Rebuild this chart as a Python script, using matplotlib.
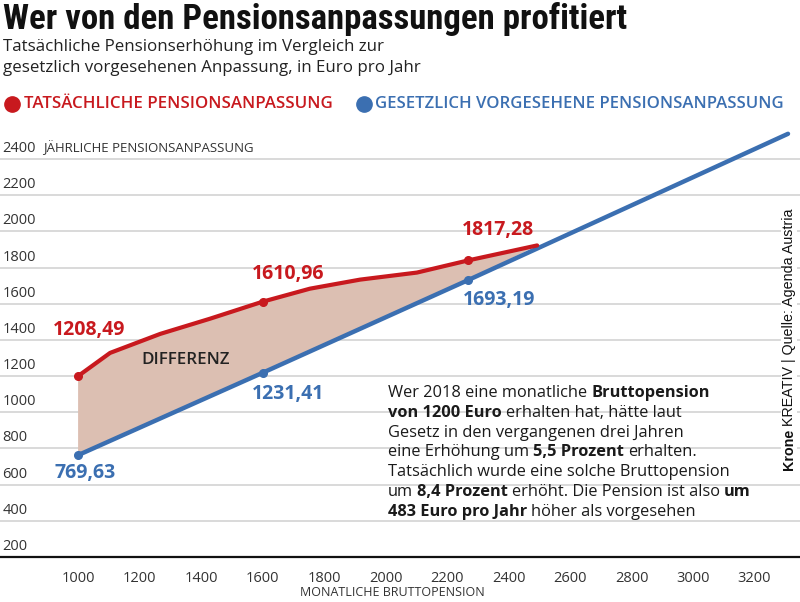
import matplotlib
matplotlib.use("Agg")
import matplotlib.pyplot as plt
from matplotlib.lines import Line2D
import matplotlib.transforms as mtransforms
import numpy as np

# values
red_x = [1000, 1104, 1267, 1429, 1600, 1754, 1917, 2102, 2268, 2493]
red_y = [1200, 1328, 1433, 1517, 1611, 1683, 1733, 1772, 1839, 1922]
blue_x = [1000, 1600, 2268, 3309]
blue_y = [763, 1218, 1730, 2539]
red_marks = [0, 4, 8]
blue_marks = [0, 1, 2]
red_labels = ["1208,49", "1610,96", "1817,28"]
blue_labels = ["769,63", "1231,41", "1693,19"]
x_ticks = [1000, 1200, 1400, 1600, 1800, 2000, 2200, 2400, 2600, 2800, 3000, 3200]
y_ticks = [200, 400, 600, 800, 1000, 1200, 1400, 1600, 1800, 2000, 2200, 2400]

RED = "#c8191e"
BLUE = "#3b6fb1"
FILL = "#dcbfb2"
GRID = "#d9d9d9"

W, H = 800, 602
fig = plt.figure(figsize=(8, 6.02), dpi=100)
fig.patch.set_facecolor("white")


def fx(px):
    return px / W


def fy(py):
    return 1 - py / H


ax = fig.add_axes([0, fy(557), 1, fy(130) - fy(557)])
ax.set_xlim(746, 3348)
ax.set_ylim(200, 2560)
for s in ["top", "left", "right"]:
    ax.spines[s].set_visible(False)
ax.spines["bottom"].set_linewidth(1.6)
ax.spines["bottom"].set_color("#111111")
ax.spines["bottom"].set_zorder(5)

ax.set_yticks(y_ticks[1:])
ax.yaxis.grid(True, color=GRID, lw=1.4)
ax.set_axisbelow(True)
ax.tick_params(axis="y", length=0, labelleft=False)

ax.set_xticks(x_ticks)
ax.set_xticklabels([str(t) for t in x_ticks], fontfamily="Open Sans",
                   fontsize=10.5, color="#333333")
ax.tick_params(axis="x", length=0, pad=10)

# y labels sit above the gridlines
trans = mtransforms.offset_copy(ax.get_yaxis_transform(), fig=fig, x=0, y=7, units="dots")
for t in y_ticks:
    ax.text(0.003, t, str(t), transform=trans, ha="left", va="baseline",
            fontfamily="Open Sans", fontsize=10.5, color="#333333")
ax.text(0.054, 2400, "JÄHRLICHE PENSIONSANPASSUNG", transform=trans, ha="left",
        va="baseline", fontfamily="Open Sans", fontsize=9.5, color="#333333")

# difference area
poly_x = red_x + blue_x[2::-1]
poly_y = red_y + blue_y[2::-1]
ax.fill(poly_x, poly_y, color=FILL, lw=0, zorder=2)

ax.plot(blue_x, blue_y, color=BLUE, lw=3.2, solid_capstyle="round", zorder=3, clip_on=False)
ax.plot(red_x, red_y, color=RED, lw=3.0, solid_capstyle="round", solid_joinstyle="round", zorder=4)
ax.plot([blue_x[i] for i in blue_marks], [blue_y[i] for i in blue_marks], "o",
        color=BLUE, ms=5.5, zorder=4)
ax.plot([red_x[i] for i in red_marks], [red_y[i] for i in red_marks], "o",
        color=RED, ms=5.5, zorder=5)

red_off = [(-25, 46), (-11, 28), (-6, 30)]
blue_off = [(-24, -18), (-11, -21), (-5, -20)]
for i, lab, off in zip(red_marks, red_labels, red_off):
    ax.annotate(lab, (red_x[i], red_y[i]), xytext=(off[0], off[1]), textcoords="offset pixels",
                ha="left", va="center", fontfamily="Open Sans", fontweight="bold",
                fontsize=14, color=RED, zorder=6)
for i, lab, off in zip(blue_marks, blue_labels, blue_off):
    ax.annotate(lab, (blue_x[i], blue_y[i]), xytext=(off[0], off[1]), textcoords="offset pixels",
                ha="left", va="center", fontfamily="Open Sans", fontweight="bold",
                fontsize=14, color=BLUE, zorder=6)

ax.text(1351, 1289, "DIFFERENZ", ha="center", va="center", fontfamily="Open Sans",
        fontweight="semibold", fontsize=12.2, color="#222222", zorder=6)

# header
fig.text(fx(3), fy(19), "Wer von den Pensionsanpassungen profitiert", ha="left", va="center",
         fontfamily=["Liberation Sans Narrow", "Roboto Condensed", "DejaVu Sans"],
         fontweight="bold", fontsize=25, color="#111111")
fig.text(fx(3), fy(47), "Tatsächliche Pensionserhöhung im Vergleich zur", ha="left",
         va="center", fontfamily="Open Sans", fontsize=12.2, color="#222222")
fig.text(fx(3), fy(68), "gesetzlich vorgesehenen Anpassung, in Euro pro Jahr", ha="left",
         va="center", fontfamily="Open Sans", fontsize=12.2, color="#222222")

fig.add_artist(Line2D([fx(12)], [fy(104)], marker="o", ms=11, color=RED, transform=fig.transFigure))
fig.text(fx(24), fy(104), "TATSÄCHLICHE PENSIONSANPASSUNG", ha="left", va="center",
         fontfamily="Open Sans", fontweight="semibold", fontsize=12.2, color=RED)
fig.add_artist(Line2D([fx(364)], [fy(104)], marker="o", ms=11, color=BLUE, transform=fig.transFigure))
fig.text(fx(375), fy(104), "GESETZLICH VORGESEHENE PENSIONSANPASSUNG", ha="left", va="center",
         fontfamily="Open Sans", fontweight="semibold", fontsize=12.1, color=BLUE)

fig.text(fx(392), fy(593), "MONATLICHE BRUTTOPENSION", ha="center", va="center",
         fontfamily="Open Sans", fontsize=9, color="#333333")

# explanation text with bold runs
body = [
    [("Wer 2018 eine monatliche", False), ("Bruttopension", True)],
    [("von 1200 Euro", True), ("erhalten hat, hätte laut", False)],
    [("Gesetz in den vergangenen drei Jahren", False)],
    [("eine Erhöhung um", False), ("5,5 Prozent", True), ("erhalten.", False)],
    [("Tatsächlich wurde eine solche Bruttopension", False)],
    [("um", False), ("8,4 Prozent", True), ("erhöht. Die Pension ist also", False), ("um", True)],
    [("483 Euro pro Jahr", True), ("höher als vorgesehen", False)],
]
renderer = fig.canvas.get_renderer()
space = 4
for li, line in enumerate(body):
    x = 388
    y = 393 + li * 19.8
    for txt, bold in line:
        t = fig.text(fx(x), fy(y), txt, ha="left", va="center", fontfamily="Open Sans",
                     fontweight="bold" if bold else "normal", fontsize=11.8, color="#1a1a1a")
        bb = t.get_window_extent(renderer)
        x = bb.x1 + space

# source, rotated
t1 = fig.text(fx(789), fy(470), "Krone", rotation=90, ha="center", va="bottom",
              fontfamily="Liberation Sans", fontweight="bold", fontsize=10.3, color="#111111",
              bbox=dict(facecolor="white", edgecolor="none", pad=1))
bb = t1.get_window_extent(renderer)
fig.text(fx(789), bb.y1 / H + 3 / H, "KREATIV | Quelle: Agenda Austria", rotation=90,
         ha="center", va="bottom", fontfamily="Liberation Sans", fontsize=10.3, color="#111111",
         bbox=dict(facecolor="white", edgecolor="none", pad=1))

fig.savefig("out.png", dpi=100)
